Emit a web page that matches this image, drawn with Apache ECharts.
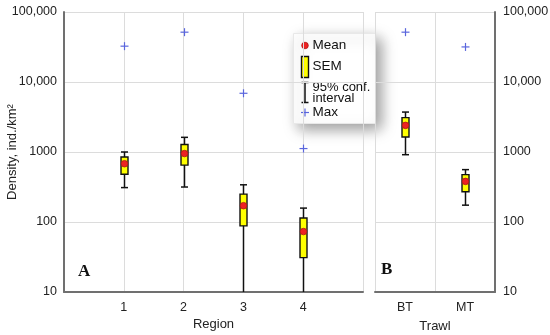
<!DOCTYPE html>
<html><head><meta charset="utf-8">
<script src="https://cdn.jsdelivr.net/npm/echarts@6/dist/echarts.min.js"></script>
<style>html,body{margin:0;padding:0;background:#fff}#c{width:550px;height:335px}</style>
</head><body><div id="c"></div>
<script>
// ---- data ----
const regions = ['1', '2', '3', '4'];
const regionX = [1, 2, 3, 4];
const regionCiLow = [310, 316, 1, 1];     // lower CI of regions 3,4 falls below the axis
const regionSemLow = [480, 650, 88, 31];
const regionMean = [680, 950, 171, 73];
const regionSemHigh = [850, 1280, 250, 114];
const regionCiHigh = [1000, 1620, 340, 158];
const regionMax = [32500, 51500, 6900, 1120];

const trawls = ['BT', 'MT'];
const trawlCiLow = [915, 174];
const trawlSemLow = [1640, 270];
const trawlMean = [2400, 380];
const trawlSemHigh = [3100, 475];
const trawlCiHigh = [3720, 560];
const trawlMax = [51500, 31700];

const yTicks = [10, 100, 1000, 10000, 100000];

// ---- styles ----
const FONT = "'Liberation Sans', Arial, sans-serif";
const AXIS_COLOR = '#707070';
const GRID_COLOR = '#dcdcdc';
const BOX_W = 7, CAP_W = 7;
const YELLOW = '#ffff00', RED = '#ee2222', BLUE = '#5a66dd';

function fmtY(v) {
  return v >= 10000 ? v.toLocaleString('en-US') : String(v);
}

function renderBox(params, api) {
  const x = api.value(0);
  const pLo = api.coord([x, api.value(1)]);
  const pSl = api.coord([x, api.value(2)]);
  const pM = api.coord([x, api.value(3)]);
  const pSh = api.coord([x, api.value(4)]);
  const pHi = api.coord([x, api.value(5)]);
  const pMax = api.coord([x, api.value(6)]);
  const cx = Math.round(pM[0]) + 0.5;
  const ls = { stroke: '#111', lineWidth: 1.5, fill: null };
  return {
    type: 'group',
    children: [
      { type: 'line', shape: { x1: cx, y1: pLo[1], x2: cx, y2: pHi[1] }, style: ls },
      { type: 'line', shape: { x1: cx - CAP_W / 2, y1: pLo[1], x2: cx + CAP_W / 2, y2: pLo[1] }, style: ls },
      { type: 'line', shape: { x1: cx - CAP_W / 2, y1: pHi[1], x2: cx + CAP_W / 2, y2: pHi[1] }, style: ls },
      { type: 'rect', shape: { x: cx - BOX_W / 2, y: pSh[1], width: BOX_W, height: pSl[1] - pSh[1] },
        style: { fill: YELLOW, stroke: '#111', lineWidth: 1.4 } },
      { type: 'circle', shape: { cx: cx, cy: pM[1], r: 3.3 },
        style: { fill: RED, stroke: '#b01818', lineWidth: 0.8 } },
      { type: 'line', shape: { x1: cx - 4, y1: pMax[1], x2: cx + 4, y2: pMax[1] }, style: { stroke: BLUE, lineWidth: 1.2 } },
      { type: 'line', shape: { x1: cx, y1: pMax[1] - 4, x2: cx, y2: pMax[1] + 4 }, style: { stroke: BLUE, lineWidth: 1.2 } }
    ]
  };
}

const regionData = regionX.map((x, i) => [x, regionCiLow[i], regionSemLow[i], regionMean[i], regionSemHigh[i], regionCiHigh[i], regionMax[i]]);
const trawlData = trawls.map((t, i) => [i, trawlCiLow[i], trawlSemLow[i], trawlMean[i], trawlSemHigh[i], trawlCiHigh[i], trawlMax[i]]);

const yCommon = {
  type: 'log', min: yTicks[0], max: yTicks[yTicks.length - 1], logBase: 10,
  axisLine: { show: true, lineStyle: { color: AXIS_COLOR, width: 2 } },
  axisTick: { show: false },
  splitLine: { show: true, lineStyle: { color: GRID_COLOR, width: 1 } },
  axisLabel: { formatter: fmtY, color: '#222', fontSize: 12.5, fontFamily: FONT }
};

const chart = echarts.init(document.getElementById('c'), null, { renderer: 'canvas' });
chart.setOption({
  animation: false,
  grid: [
    { left: 64, top: 12, width: 299, height: 280, containLabel: false, outerBoundsMode: 'none' },
    { left: 375, top: 12, width: 120, height: 280, containLabel: false, outerBoundsMode: 'none' }
  ],
  xAxis: [
    {
      gridIndex: 0, type: 'value', min: 0, max: 5, interval: 1,
      axisLine: { show: true, onZero: false, lineStyle: { color: AXIS_COLOR, width: 2 } },
      axisTick: { show: false },
      splitLine: { show: true, lineStyle: { color: GRID_COLOR, width: 1 } },
      axisLabel: { color: '#222', fontSize: 12.5, fontFamily: FONT, margin: 9,
        formatter: v => (v >= 1 && v <= regions.length) ? regions[v - 1] : '' },
      name: 'Region', nameLocation: 'middle', nameGap: 26, nameMoveOverlap: false,
      nameTextStyle: { color: '#222', fontSize: 13, fontFamily: FONT }
    },
    {
      gridIndex: 1, type: 'category', data: trawls, boundaryGap: true,
      axisLine: { show: true, onZero: false, lineStyle: { color: AXIS_COLOR, width: 2 } },
      axisTick: { show: false },
      splitLine: { show: true, interval: 0, lineStyle: { color: GRID_COLOR, width: 1 } },
      axisLabel: { color: '#222', fontSize: 12.5, fontFamily: FONT, margin: 9 },
      name: 'Trawl', nameLocation: 'middle', nameGap: 28, nameMoveOverlap: false,
      nameTextStyle: { color: '#222', fontSize: 13, fontFamily: FONT }
    }
  ],
  yAxis: [
    Object.assign({}, yCommon, {
      gridIndex: 0, position: 'left',
      axisLabel: Object.assign({}, yCommon.axisLabel, { margin: 7 }),
      name: 'Density, ind./km²', nameLocation: 'middle', nameGap: 45, nameRotate: 90, nameMoveOverlap: false,
      nameTextStyle: { color: '#222', fontSize: 13, fontFamily: FONT }
    }),
    Object.assign({}, yCommon, {
      gridIndex: 1, position: 'right',
      axisLabel: Object.assign({}, yCommon.axisLabel, { margin: 8 })
    })
  ],
  series: [
    { type: 'custom', xAxisIndex: 0, yAxisIndex: 0, data: regionData, renderItem: renderBox, clip: true, z: 5 },
    { type: 'custom', xAxisIndex: 1, yAxisIndex: 1, data: trawlData, renderItem: renderBox, clip: true, z: 5 }
  ],
  graphic: [
    { type: 'text', left: 78, top: 263, z: 10,
      style: { text: 'A', font: "bold 17px 'Liberation Serif', 'DejaVu Serif', serif", fill: '#111' } },
    { type: 'text', left: 381, top: 261, z: 10,
      style: { text: 'B', font: "bold 17px 'Liberation Serif', 'DejaVu Serif', serif", fill: '#111' } },
    {
      type: 'group', left: 293, top: 33, z: 20,
      children: [
        { type: 'rect', shape: { x: 0, y: 0, width: 82, height: 90 },
          style: { fill: '#fff', stroke: '#e8e8e8', lineWidth: 1, shadowBlur: 14, shadowOffsetX: 5, shadowOffsetY: 5, shadowColor: 'rgba(0,0,0,0.4)' } },
        { type: 'circle', shape: { cx: 11.5, cy: 12, r: 3.3 }, style: { fill: RED, stroke: '#b01818', lineWidth: 0.8 } },
        { type: 'text', x: 19, y: 12, style: { text: 'Mean', font: "13.5px " + FONT, fill: '#111', verticalAlign: 'middle' } },
        { type: 'rect', shape: { x: 8, y: 23, width: 7, height: 21 }, style: { fill: YELLOW, stroke: '#111', lineWidth: 1.4 } },
        { type: 'text', x: 19, y: 33, style: { text: 'SEM', font: "13.5px " + FONT, fill: '#111', verticalAlign: 'middle' } },
        { type: 'line', shape: { x1: 11.5, y1: 49, x2: 11.5, y2: 69 }, style: { stroke: '#111', lineWidth: 1.5 } },
        { type: 'line', shape: { x1: 8, y1: 49, x2: 15, y2: 49 }, style: { stroke: '#111', lineWidth: 1.5 } },
        { type: 'line', shape: { x1: 8, y1: 69, x2: 15, y2: 69 }, style: { stroke: '#111', lineWidth: 1.5 } },
        { type: 'text', x: 19, y: 54, style: { text: '95% conf.', font: "13px " + FONT, fill: '#111', verticalAlign: 'middle' } },
        { type: 'text', x: 19, y: 65, style: { text: 'interval', font: "13px " + FONT, fill: '#111', verticalAlign: 'middle' } },
        { type: 'line', shape: { x1: 7.5, y1: 79, x2: 15.5, y2: 79 }, style: { stroke: BLUE, lineWidth: 1.2 } },
        { type: 'line', shape: { x1: 11.5, y1: 75, x2: 11.5, y2: 83 }, style: { stroke: BLUE, lineWidth: 1.2 } },
        { type: 'text', x: 19, y: 79, style: { text: 'Max', font: "13.5px " + FONT, fill: '#111', verticalAlign: 'middle' } }
      ]
    }
  ]
});
</script>
</body></html>
